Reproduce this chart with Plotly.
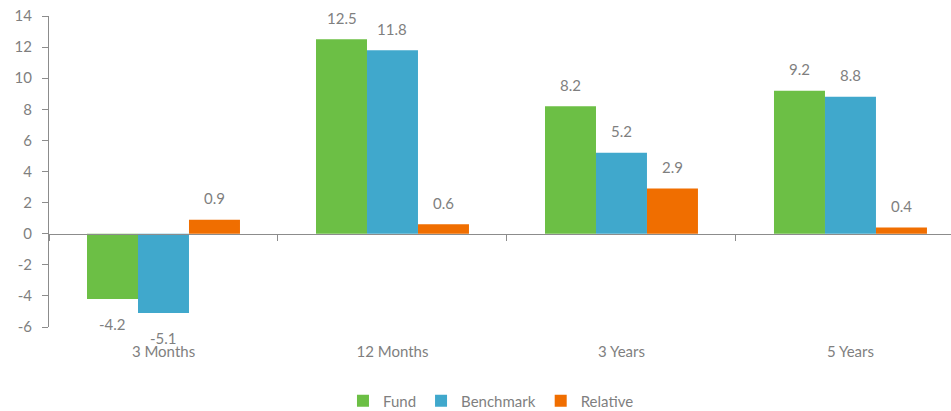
import plotly.graph_objects as go

# Performance periods and returns (%)
periods = ["3 Months", "12 Months", "3 Years", "5 Years"]
fund = [-4.2, 12.5, 8.2, 9.2]
benchmark = [-5.1, 11.8, 5.2, 8.8]
relative = [0.9, 0.6, 2.9, 0.4]

series_names = ["Fund", "Benchmark", "Relative"]
series_colors = ["#6cbf45", "#40a8cc", "#f06e00"]
y_ticks = [-6, -4, -2, 0, 2, 4, 6, 8, 10, 12, 14]

FONT = "Lato, 'Open Sans', sans-serif"
TEXT_GREY = "#7f7f7f"
AXIS_GREY = "#8c8c8c"

W, H = 951, 411
M_L, M_R, M_T, M_B = 49, 0, 16, 84
plot_w = W - M_L - M_R
x_range = [-0.5, 3.439]
y_range = [-6, 14]
bargap = 0.332

fig = go.Figure()
all_series = [fund, benchmark, relative]
for name, vals, col in zip(series_names, all_series, series_colors):
    fig.add_trace(go.Bar(
        x=periods, y=vals, name=name,
        marker=dict(color=col, line=dict(width=0)),
        xaxis="x", yaxis="y",
    ))

# invisible trace carrying the category labels along the bottom edge
fig.add_trace(go.Scatter(
    x=periods, y=[0] * len(periods), xaxis="x2", yaxis="y",
    mode="markers", marker=dict(opacity=0), showlegend=False, hoverinfo="skip",
))

# value labels above / below each bar
px_per_cat = plot_w / (x_range[1] - x_range[0])
bar_px = px_per_cat * (1 - bargap) / 3
annotations = []
for i, vals in enumerate(all_series):
    offset = (i - 1) * bar_px
    for p, v in zip(periods, vals):
        annotations.append(dict(
            x=p, y=v, xref="x", yref="y", text=f"{v:.1f}",
            showarrow=False, xshift=offset,
            yshift=21.5 if v >= 0 else -25,
            yanchor="middle", xanchor="center",
            font=dict(family=FONT, size=15, color=TEXT_GREY),
        ))

zero_pos = (0 - y_range[0]) / (y_range[1] - y_range[0])

fig.update_layout(
    width=W, height=H,
    margin=dict(l=M_L, r=M_R, t=M_T, b=M_B, autoexpand=False),
    paper_bgcolor="white", plot_bgcolor="white",
    barmode="group", bargap=bargap, bargroupgap=0,
    font=dict(family=FONT, size=15, color=TEXT_GREY),
    annotations=annotations,
    xaxis=dict(
        type="category", categoryarray=periods, range=x_range,
        anchor="free", position=zero_pos, automargin=False,
        showline=True, linecolor=AXIS_GREY, linewidth=1,
        ticks="outside", tickson="boundaries", ticklen=6, tickcolor=AXIS_GREY,
        showticklabels=False, showgrid=False, zeroline=False,
    ),
    xaxis2=dict(
        type="category", categoryarray=periods, range=x_range,
        overlaying="x", anchor="y", side="bottom", automargin=False,
        showline=False, ticks="", showgrid=False, zeroline=False,
        tickfont=dict(family=FONT, size=15, color=TEXT_GREY),
        ticklabelstandoff=14,
    ),
    yaxis=dict(
        range=y_range, tickvals=y_ticks, ticktext=[str(t) for t in y_ticks],
        automargin=False,
        showline=True, linecolor=AXIS_GREY, linewidth=1,
        ticks="outside", ticklen=6, tickcolor=AXIS_GREY,
        showgrid=False, zeroline=False,
        tickfont=dict(family=FONT, size=15, color=TEXT_GREY),
        ticklabelstandoff=7,
    ),
    legend=dict(
        orientation="h", x=0.49, xanchor="center",
        yref="container", y=(H - 401) / H, yanchor="middle",
        font=dict(family=FONT, size=15, color=TEXT_GREY),
        itemwidth=30, tracegroupgap=0,
    ),
    showlegend=True,
)

fig.write_html("out.html")
